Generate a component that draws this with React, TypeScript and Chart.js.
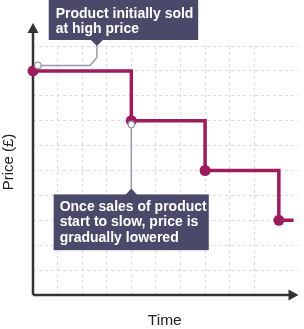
import React, { useEffect, useRef } from "react";
import { Chart, registerables } from "chart.js";

Chart.register(...registerables);

// Data
const timeValues = [0, 4, 7, 10, 10.6];
const priceValues = [9, 7, 5, 3, 3];
const dotRadii = [5.5, 5.5, 5.5, 5.5, 0];
const xTitle = "Time";
const yTitle = "Price (£)";
const note1Lines = ["Product initially sold", "at high price"];
const note2Lines = ["Once sales of product", "start to slow, price is", "gradually lowered"];

const LINE = "#9e1b5c";
const BOX = "#4b4969";
const CONNECTOR = "#9a98ab";
const AXIS = "#333333";
const GRID = "#dcdaee";
const FONT = "'Liberation Sans', Arial, sans-serif";

const overlayPlugin = {
  id: "overlay",
  beforeDatasetsDraw(chart: any) {
    const { ctx, scales } = chart;
    const x = scales.x;
    const y = scales.y;
    const x0 = x.getPixelForValue(0);
    const y0 = y.getPixelForValue(0);
    const xEnd = x.right;
    const yTop = y.top - 23;
    ctx.save();
    ctx.strokeStyle = AXIS;
    ctx.fillStyle = AXIS;
    ctx.lineWidth = 2.5;
    ctx.beginPath();
    ctx.moveTo(x0, y0);
    ctx.lineTo(x0, yTop + 8);
    ctx.moveTo(x0, y0);
    ctx.lineTo(xEnd - 8, y0);
    ctx.stroke();
    // arrows
    ctx.beginPath();
    ctx.moveTo(x0, yTop);
    ctx.lineTo(x0 - 5.5, yTop + 10);
    ctx.lineTo(x0 + 5.5, yTop + 10);
    ctx.closePath();
    ctx.fill();
    ctx.beginPath();
    ctx.moveTo(xEnd, y0);
    ctx.lineTo(xEnd - 10, y0 - 5.5);
    ctx.lineTo(xEnd - 10, y0 + 5.5);
    ctx.closePath();
    ctx.fill();
    // titles
    ctx.fillStyle = "#222";
    ctx.font = `15.5px ${FONT}`;
    ctx.textAlign = "center";
    ctx.textBaseline = "middle";
    ctx.fillText(xTitle, (x0 + xEnd) / 2 - 1, y0 + 26);
    ctx.font = `15px ${FONT}`;
    ctx.translate(9, 162);
    ctx.rotate(-Math.PI / 2);
    ctx.fillText(yTitle, 0, 0);
    ctx.restore();
  },
  afterDatasetsDraw(chart: any) {
    const { ctx, scales } = chart;
    const x = scales.x;
    const y = scales.y;
    const px = (v: number) => x.getPixelForValue(v);
    const py = (v: number) => y.getPixelForValue(v);
    ctx.save();

    const openCircle = (cx: number, cy: number) => {
      ctx.beginPath();
      ctx.arc(cx, cy, 3.2, 0, Math.PI * 2);
      ctx.fillStyle = "#fff";
      ctx.fill();
      ctx.lineWidth = 1.3;
      ctx.strokeStyle = CONNECTOR;
      ctx.stroke();
    };

    // Note 1 connector
    const c1x = px(0.2);
    const c1y = py(9.22);
    const k1x = px(2.6);
    ctx.strokeStyle = CONNECTOR;
    ctx.lineWidth = 1.5;
    ctx.beginPath();
    ctx.moveTo(c1x, c1y);
    ctx.lineTo(k1x - 7, c1y);
    ctx.lineTo(k1x, c1y - 8);
    ctx.lineTo(k1x, 40);
    ctx.stroke();
    openCircle(c1x, c1y);

    // Note 1 box
    const b1l = px(0.64);
    const b1r = px(6.72);
    ctx.fillStyle = BOX;
    ctx.fillRect(b1l, 0, b1r - b1l, 40);
    ctx.beginPath();
    ctx.moveTo(k1x - 6, 40);
    ctx.lineTo(k1x + 6, 40);
    ctx.lineTo(k1x, 46);
    ctx.closePath();
    ctx.fill();
    ctx.fillStyle = "#fff";
    ctx.font = `bold 14px ${FONT}`;
    ctx.textAlign = "left";
    ctx.textBaseline = "alphabetic";
    note1Lines.forEach((t, i) => ctx.fillText(t, b1l + 7, 17.5 + i * 15));

    // Note 2 connector
    const c2x = px(4);
    const c2y = py(6.85);
    const b2t = py(4.04);
    ctx.strokeStyle = CONNECTOR;
    ctx.lineWidth = 1.5;
    ctx.beginPath();
    ctx.moveTo(c2x, c2y);
    ctx.lineTo(c2x, b2t);
    ctx.stroke();
    openCircle(c2x, c2y);

    // Note 2 box
    const b2l = px(0.84);
    const b2r = px(7.15);
    const b2b = py(1.8);
    ctx.fillStyle = BOX;
    ctx.fillRect(b2l, b2t, b2r - b2l, b2b - b2t);
    ctx.beginPath();
    ctx.moveTo(c2x - 6, b2t + 0.5);
    ctx.lineTo(c2x + 6, b2t + 0.5);
    ctx.lineTo(c2x, b2t - 6);
    ctx.closePath();
    ctx.fill();
    ctx.fillStyle = "#fff";
    ctx.font = `bold 14px ${FONT}`;
    note2Lines.forEach((t, i) => ctx.fillText(t, b2l + 6, b2t + 16.5 + i * 15.5));
    ctx.restore();
  },
};

export default function App() {
  const ref = useRef<HTMLCanvasElement | null>(null);
  useEffect(() => {
    if (!ref.current) return;
    const gridColor = (ctx: any) => {
      const v = ctx.tick ? ctx.tick.value : 0;
      if (v <= 0 || v > 10 || Math.abs(v - Math.round(v)) > 1e-6) return "rgba(0,0,0,0)";
      return GRID;
    };
    const chart = new Chart(ref.current, {
      type: "line",
      data: {
        datasets: [
          {
            data: timeValues.map((t, i) => ({ x: t, y: priceValues[i] })),
            borderColor: LINE,
            backgroundColor: LINE,
            borderWidth: 3.5,
            stepped: "before",
            pointRadius: dotRadii,
            pointHoverRadius: dotRadii,
            pointBorderWidth: 0,
            clip: false as any,
          },
        ],
      },
      plugins: [overlayPlugin],
      options: {
        animation: false,
        responsive: false,
        maintainAspectRatio: false,
        events: [],
        layout: { padding: { left: 33, right: 1, top: 46, bottom: 34 } },
        plugins: { legend: { display: false }, tooltip: { enabled: false } },
        scales: {
          x: {
            type: "linear",
            min: 0,
            max: 10.8,
            ticks: { display: false, stepSize: 1 },
            grid: { color: gridColor, drawTicks: false, lineWidth: 1 },
            border: { display: false, dash: [3, 3] },
          },
          y: {
            type: "linear",
            min: 0,
            max: 10,
            ticks: { display: false, stepSize: 1 },
            grid: { color: gridColor, drawTicks: false, lineWidth: 1 },
            border: { display: false, dash: [3, 3] },
          },
        },
      },
    });
    return () => chart.destroy();
  }, []);
  return (
    <div style={{ position: "fixed", left: 0, top: 0, width: 304, height: 329, background: "#fff" }}>
      <canvas ref={ref} width={304} height={329} style={{ width: 304, height: 329 }} />
    </div>
  );
}
